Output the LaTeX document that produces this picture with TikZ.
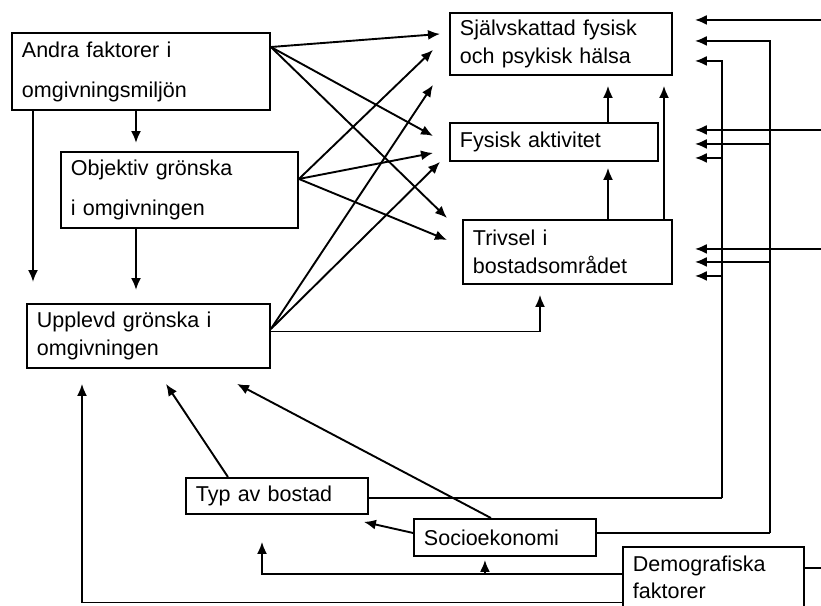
\documentclass[tikz,border=0pt]{standalone}
\usepackage{fontspec}
\setmainfont{Liberation Sans}
\usetikzlibrary{arrows.meta}

\tikzset{
  faktor/.style={draw, line width=1.9pt, anchor=north west, align=left, inner xsep=10pt, inner ysep=0pt, font=\fontsize{21.5}{28}\selectfont},
  pil/.style={line width=1.9pt, -{Latex[length=12pt,width=10pt]}},
  linje/.style={line width=1.9pt}
}

\begin{document}
\begin{tikzpicture}[x=1pt,y=-1pt]
    \useasboundingbox (0,0) rectangle (821,605);

    \node[faktor, minimum width=258pt, minimum height=77pt, text width=238pt] (andra) at (11,32) {Andra faktorer i\\[12pt]omgivningsmiljön};
    \node[faktor, minimum width=237pt, minimum height=76pt, text width=217pt] (objektiv) at (60,151) {Objektiv grönska\\[12pt]i omgivningen};
    \node[faktor, minimum width=243pt, minimum height=64pt, text width=223pt] (upplevd) at (26,303) {Upplevd grönska i\\omgivningen};
    \node[faktor, minimum width=222pt, minimum height=62pt, text width=202pt] (selv) at (449,12) {Självskattad fysisk\\och psykisk hälsa};
    \node[faktor, minimum width=208pt, minimum height=38pt, text width=188pt] (fysisk) at (449,122) {Fysisk aktivitet};
    \node[faktor, minimum width=209pt, minimum height=64pt, text width=189pt] (trivsel) at (462,219) {Trivsel i\\bostadsområdet};
    \node[faktor, minimum width=182pt, minimum height=36pt, text width=162pt] (typ) at (185,477) {Typ av bostad};
    \node[faktor, minimum width=182pt, minimum height=37pt, text width=162pt] (socio) at (413,518) {Socioekonomi};
    \node[faktor, minimum width=181pt, minimum height=61pt, text width=161pt] (demo) at (622,546) {Demografiska\\[-1pt]faktorer};

    \draw[pil] ([yshift=-15pt]andra.north east) -- ([xshift=-9pt,yshift=10pt]selv.west);
    \draw[pil] ([yshift=-15pt]andra.north east) -- ([xshift=-16pt,yshift=6pt]fysisk.west);
    \draw[pil] ([yshift=-15pt]andra.north east) -- ([xshift=-15pt,yshift=1pt]trivsel.north west);
    \draw[pil] ([yshift=11pt]objektiv.east) -- ([xshift=-16pt,yshift=-6pt]selv.west);
    \draw[pil] ([yshift=11pt]objektiv.east) -- ([xshift=-16pt,yshift=-11pt]fysisk.west);
    \draw[pil] ([yshift=11pt]objektiv.east) -- ([xshift=-15pt,yshift=12pt]trivsel.west);
    \draw[pil] ([yshift=7pt]upplevd.east) -- ([xshift=-16pt,yshift=-9pt]selv.south west);
    \draw[pil] ([yshift=7pt]upplevd.east) -- ([xshift=-9pt]fysisk.south west);
    \draw[pil] ([yshift=4.5pt]upplevd.east) -| ([xshift=78pt,yshift=-10pt]trivsel.south west);

    \draw[pil] ([xshift=22pt]andra.south west) -- ([xshift=7pt,yshift=21pt]upplevd.north west);
    \draw[pil] ([xshift=125pt]andra.south west) -- ([xshift=76pt,yshift=8pt]objektiv.north west);
    \draw[pil] ([xshift=76pt]objektiv.south west) -- ([xshift=110pt,yshift=13pt]upplevd.north west);
    \draw[pil] ([xshift=159pt]fysisk.north west) -- ([xshift=159pt,yshift=-10pt]selv.south west);
    \draw[pil] ([xshift=146pt]trivsel.north west) -- ([xshift=159pt,yshift=-6pt]fysisk.south west);
    \draw[pil] ([xshift=202pt]trivsel.north west) -- ([xshift=215pt,yshift=-10pt]selv.south west);

    \draw[linje] ([yshift=-2pt]typ.east) -- ++(353,0) coordinate (typr);
    \draw[pil] (typr) |- ([xshift=22pt,yshift=-17pt]selv.east);
    \draw[pil] (typr) |- ([xshift=36pt,yshift=-16pt]fysisk.east);
    \draw[pil] (typr) |- ([xshift=22pt,yshift=-24pt]trivsel.east);

    \draw[linje] ([yshift=4.5pt]socio.east) -- ++(173,0) coordinate (socior);
    \draw[pil] (socior) |- ([xshift=22pt,yshift=3pt]selv.east);
    \draw[pil] (socior) |- ([xshift=36pt,yshift=-2pt]fysisk.east);
    \draw[pil] (socior) |- ([xshift=22pt,yshift=-10pt]trivsel.east);

    \draw[linje] ([yshift=9.5pt]demo.east) -- ++(17.5,0) coordinate (demor);
    \draw[pil] (demor) |- ([xshift=22pt,yshift=24pt]selv.east);
    \draw[pil] (demor) |- ([xshift=36pt,yshift=12pt]fysisk.east);
    \draw[pil] (demor) |- ([xshift=22pt,yshift=3pt]trivsel.east);

    \draw[pil] ([yshift=4.5pt]socio.west) -- ([xshift=-5pt,yshift=-7pt]typ.south east);
    \draw[pil] ([xshift=-14pt]socio.north) -- ([xshift=211pt,yshift=-15pt]upplevd.south west);
    \draw[pil] ([xshift=-49pt]typ.north) -- ([xshift=140pt,yshift=-15pt]upplevd.south west);
    \draw[pil] ([yshift=3.5pt]demo.west) -| ([xshift=-20pt,yshift=-3pt]socio.south);
    \draw[pil] ([yshift=3.5pt]demo.west) -| ([xshift=77pt,yshift=-27pt]typ.south west);
    \draw[pil] ([yshift=-25pt]demo.west) -| ([xshift=56pt,yshift=-15pt]upplevd.south west);
\end{tikzpicture}
\end{document}
